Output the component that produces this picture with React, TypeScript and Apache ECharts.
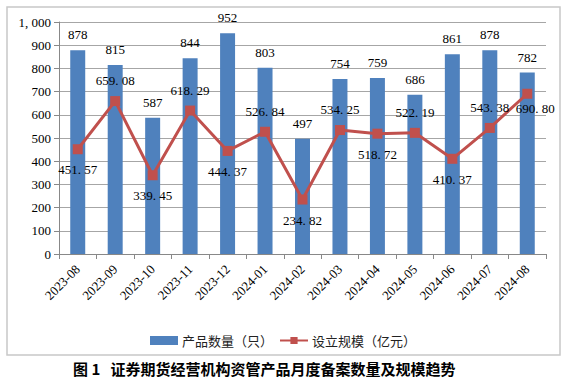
import React, { useEffect, useRef } from "react";
import * as echarts from "echarts";

const categories = [
  "2023-08", "2023-09", "2023-10", "2023-11", "2023-12", "2024-01", "2024-02",
  "2024-03", "2024-04", "2024-05", "2024-06", "2024-07", "2024-08",
];
const productCounts = [878, 815, 587, 844, 952, 803, 497, 754, 759, 686, 861, 878, 782];
const scaleValues = [451.57, 659.08, 339.45, 618.29, 444.37, 526.84, 234.82, 534.25, 518.72, 522.19, 410.37, 543.38, 690.8];
const scaleLabelPlaces = ["bottom", "top", "bottom", "top", "bottom", "top", "bottom", "top", "bottom", "top", "bottom", "top", "right"];
const seriesNames = ["产品数量（只）", "设立规模（亿元）"];
const titleText = "图 1   证券期货经营机构资管产品月度备案数量及规模趋势";

const NUM_FONT = "'Liberation Serif', 'Noto Sans CJK SC', serif";
const CJK_FONT = "'Noto Sans CJK SC', sans-serif";

const fmtNum = (s: string) => s.replace(".", ". ").replace(",", ", ");

export default function App() {
  const ref = useRef<HTMLDivElement>(null);
  useEffect(() => {
    if (!ref.current) return;
    const chart = echarts.init(ref.current, undefined, { renderer: "svg" });
    const lineData = scaleValues.map((v, i) => {
      const pos = scaleLabelPlaces[i];
      const label: any = { position: pos === "right" ? "bottom" : pos };
      if (pos === "right") label.offset = [8, -6];
      return { value: v, label };
    });
    chart.setOption({
      animation: false,
      backgroundColor: "#ffffff",
      graphic: [
        {
          type: "rect",
          shape: { x: 7, y: 7, width: 553, height: 348 },
          style: { fill: "none", stroke: "#c8c8c8", lineWidth: 1.5 },
          silent: true,
        },
        {
          type: "text",
          left: 73,
          top: 361,
          style: {
            text: titleText,
            font: `bold 15px ${CJK_FONT}`,
            fill: "#000",
          },
        },
      ],
      legend: {
        top: 329,
        left: "center",
        itemGap: 6,
        itemWidth: 28,
        itemHeight: 9,
        textStyle: { fontFamily: CJK_FONT, fontSize: 13, color: "#222", padding: [0, 0, 0, -1] },
        data: [
          { name: seriesNames[0], icon: "rect" },
          { name: seriesNames[1] },
        ],
      },
      grid: { left: 59, right: 20, top: 22, bottom: 134, containLabel: false },
      xAxis: {
        type: "category",
        data: categories,
        boundaryGap: true,
        axisLine: { lineStyle: { color: "#888", width: 1 } },
        axisTick: { show: true, alignWithLabel: false, length: 5, lineStyle: { color: "#888" } },
        axisLabel: {
          rotate: 45,
          interval: 0,
          fontFamily: NUM_FONT,
          fontSize: 13,
          color: "#000",
          margin: 13,
        },
      },
      yAxis: {
        type: "value",
        min: 0,
        max: 1000,
        interval: 100,
        axisLine: { show: true, lineStyle: { color: "#888" } },
        axisTick: { show: true, length: 5, lineStyle: { color: "#888" } },
        splitLine: { lineStyle: { color: "#a6a6a6", width: 1 } },
        axisLabel: {
          fontFamily: NUM_FONT,
          fontSize: 13,
          color: "#000",
          margin: 8,
          formatter: (v: number) => fmtNum(v.toLocaleString("en-US")),
        },
      },
      series: [
        {
          name: seriesNames[0],
          type: "bar",
          data: productCounts,
          barWidth: "40%",
          itemStyle: { color: "#4F81BD" },
          label: {
            show: true,
            position: "top",
            distance: 9,
            fontFamily: NUM_FONT,
            fontSize: 13,
            color: "#000",
          },
          z: 2,
        },
        {
          name: seriesNames[1],
          type: "line",
          data: lineData,
          symbol: "rect",
          symbolSize: 10,
          lineStyle: { color: "#C0504D", width: 3 },
          itemStyle: { color: "#C0504D" },
          label: {
            show: true,
            distance: 9,
            fontFamily: NUM_FONT,
            fontSize: 13,
            color: "#000",
            formatter: (p: any) => fmtNum(Number(p.value).toFixed(2)),
          },
          z: 3,
        },
      ],
    });
    return () => chart.dispose();
  }, []);
  return (
    <div
      ref={ref}
      style={{ position: "fixed", left: 0, top: 0, width: 566, height: 388 }}
    />
  );
}
